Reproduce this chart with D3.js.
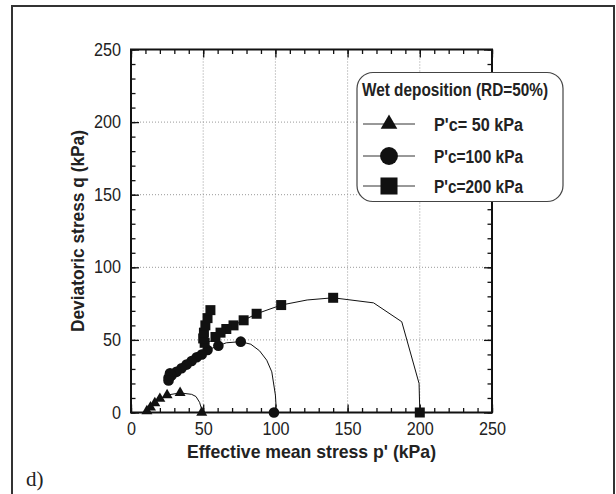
<!DOCTYPE html>
<html>
<head>
<meta charset="utf-8">
<script src="https://cdn.jsdelivr.net/npm/d3@7"></script>
<style>
  body { margin: 0; background: #fff; }
  svg { display: block; }
  text { font-family: "Liberation Sans", Arial, sans-serif; fill: #222; }
</style>
</head>
<body>
<svg id="chart" width="616" height="494"></svg>
<script>
// stress paths: [p', q, marker?]
const tri50 = [[49,0,1],[48.7,3,0],[47.5,7,0],[45,11,0],[42,12.5,0],[34,13.5,1],[25,12,1],[20,9.5,1],[16.5,6.5,1],[13.5,3.5,1],[11,1,1]];
const circ100 = [[99,0,1],[100.5,4,0],[100,12,0],[97.5,28,0],[94,36,0],[89,42.5,0],[83,47,0],[76,48.8,1],[66,48,0],[60.5,46,1],[53,43,1],[49,40,1],[45.5,38,1],[42,35.5,1],[38.5,33,1],[35,30.5,1],[31.5,28,1],[28,25.5,1],[27,27,1],[26,24,1],[26,22,1]];
const sq200 = [[200,0,1],[199.5,20,0],[187.5,62.5,0],[168,75.5,0],[140,79,1],[122,77.5,0],[104,74,1],[87,68,1],[78,63.5,1],[71,60,1],[66,57.5,1],[62,55,1],[58.5,52,1],[55,49,0],[51,48,1],[50,51,1],[50.5,55,1],[51.5,60,1],[53,65,1],[55,70.5,1]];

const legendTitle = "Wet deposition (RD=50%)";
const legendLabels = ["P'c= 50 kPa", "P'c=100 kPa", "P'c=200 kPa"];
const majorTicks = [0, 50, 100, 150, 200, 250];
const minorTicks = d3.range(0, 251, 10);
const gridTicks = [50, 100, 150, 200];

const svg = d3.select('#chart');

// outer frame of the figure
svg.append('rect')
  .attr('x', 12).attr('y', 6).attr('width', 602).attr('height', 500)
  .attr('fill', 'none').attr('stroke', '#333').attr('stroke-width', 2);

const pL = 131, pR = 492, pT = 49.5, pB = 412.5;
const x = d3.scaleLinear().domain([0, 250]).range([pL, pR]);
const y = d3.scaleLinear().domain([0, 250]).range([pB, pT]);

// dotted grid
const grid = svg.append('g').attr('stroke', '#999').attr('stroke-dasharray', '1,2');
grid.selectAll('.gx').data(gridTicks).enter().append('line')
  .attr('x1', d => x(d)).attr('x2', d => x(d)).attr('y1', pT).attr('y2', pB);
grid.selectAll('.gy').data(gridTicks).enter().append('line')
  .attr('y1', d => y(d)).attr('y2', d => y(d)).attr('x1', pL).attr('x2', pR);

// ticks: inward on all four sides
function tickAxis(axisFn, scale, vals, size, tx, ty, labels) {
  const g = svg.append('g').attr('transform', 'translate(' + tx + ',' + ty + ')')
    .call(axisFn(scale).tickValues(vals).tickSize(size).tickPadding(10)
      .tickFormat(labels ? d3.format('d') : ''));
  g.select('.domain').remove();
  g.selectAll('line').attr('stroke', '#111').attr('stroke-width', 1.3);
  g.selectAll('text').style('font-size', '17.5px').attr('fill', '#222')
    .attr('textLength', d => String(d).length * 9).attr('lengthAdjust', 'spacingAndGlyphs');
  return g;
}
tickAxis(d3.axisBottom, x, minorTicks, -4.5, 0, pB, false);
tickAxis(d3.axisBottom, x, majorTicks, -8, 0, pB, true);
tickAxis(d3.axisTop, x, minorTicks, -4.5, 0, pT, false);
tickAxis(d3.axisTop, x, majorTicks, -8, 0, pT, false);
tickAxis(d3.axisLeft, y, minorTicks, -4.5, pL, 0, false);
tickAxis(d3.axisLeft, y, majorTicks, -8, pL, 0, true);
tickAxis(d3.axisRight, y, minorTicks, -4.5, pR, 0, false);
tickAxis(d3.axisRight, y, majorTicks, -8, pR, 0, false);

svg.append('rect')
  .attr('x', pL).attr('y', pT).attr('width', pR - pL).attr('height', pB - pT)
  .attr('fill', 'none').attr('stroke', '#111').attr('stroke-width', 2);

// axis titles
svg.append('text')
  .attr('x', (pL + pR) / 2).attr('y', 458)
  .attr('text-anchor', 'middle')
  .attr('textLength', 249).attr('lengthAdjust', 'spacingAndGlyphs')
  .style('font-size', '19px').style('font-weight', 'bold')
  .text("Effective mean stress p' (kPa)");

svg.append('text')
  .attr('transform', 'translate(84,' + ((pT + pB) / 2) + ') rotate(-90)')
  .attr('text-anchor', 'middle')
  .attr('textLength', 202).attr('lengthAdjust', 'spacingAndGlyphs')
  .style('font-size', '19px').style('font-weight', 'bold')
  .text('Deviatoric stress q (kPa)');

svg.append('text')
  .attr('x', 26).attr('y', 486)
  .style('font-family', '"Liberation Serif", "Times New Roman", serif')
  .style('font-size', '21px')
  .text('d)');

// series
const series = [
  { data: tri50, sym: d3.symbolTriangle, size: 52, legSize: 120 },
  { data: circ100, sym: d3.symbolCircle, size: 88, legSize: 250 },
  { data: sq200, sym: d3.symbolSquare, size: 100, legSize: 290 }
];

const line = d3.line().x(d => x(d[0])).y(d => y(d[1]));

series.forEach(s => {
  svg.append('path')
    .attr('d', line(s.data))
    .attr('fill', 'none').attr('stroke', '#111').attr('stroke-width', 1);
  svg.append('g').selectAll('path')
    .data(s.data.filter(d => d[2]))
    .enter().append('path')
    .attr('transform', d => 'translate(' + x(d[0]) + ',' + y(d[1]) + ')')
    .attr('d', d3.symbol().type(s.sym).size(s.size))
    .attr('fill', '#111');
});

// legend
const leg = svg.append('g');
leg.append('rect')
  .attr('x', 357).attr('y', 72.5).attr('width', 206).attr('height', 129)
  .attr('rx', 16).attr('ry', 16)
  .attr('fill', '#fff').attr('stroke', '#444').attr('stroke-width', 1.2);
leg.append('text')
  .attr('x', 362).attr('y', 96)
  .attr('textLength', 186).attr('lengthAdjust', 'spacingAndGlyphs')
  .style('font-size', '17.5px').style('font-weight', 'bold')
  .text(legendTitle);

const rowY = [124, 156, 186];
series.forEach((s, i) => {
  leg.append('line')
    .attr('x1', 363).attr('x2', 415).attr('y1', rowY[i]).attr('y2', rowY[i])
    .attr('stroke', '#333').attr('stroke-width', 1);
  leg.append('path')
    .attr('transform', 'translate(389,' + rowY[i] + ')')
    .attr('d', d3.symbol().type(s.sym).size(s.legSize))
    .attr('fill', '#111');
  leg.append('text')
    .attr('x', 434).attr('y', rowY[i] + 6.5)
    .attr('textLength', 89).attr('lengthAdjust', 'spacingAndGlyphs')
    .style('font-size', '17.5px').style('font-weight', 'bold')
    .text(legendLabels[i]);
});
</script>
</body>
</html>
